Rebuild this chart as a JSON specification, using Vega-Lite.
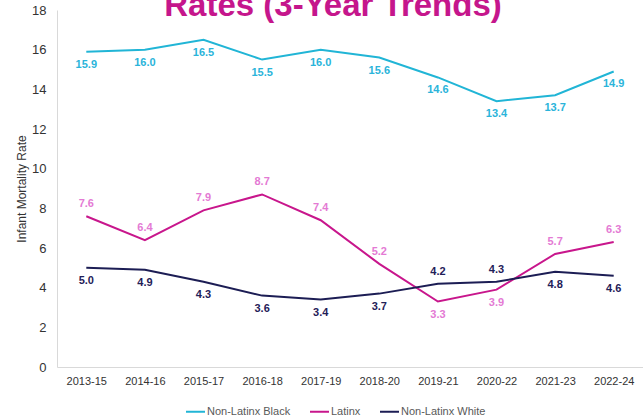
{
  "$schema": "https://vega.github.io/schema/vega-lite/v6.json",
  "autosize": {"type": "none"},
  "padding": {"left": 57, "top": 10, "right": 0, "bottom": 49},
  "width": 586,
  "height": 357,
  "background": "white",
  "title": {
    "text": "Rates (3-Year Trends)",
    "fontSize": 33,
    "fontWeight": "bold",
    "font": "Liberation Sans",
    "color": "#C5168C",
    "anchor": "middle",
    "frame": "group",
    "baseline": "alphabetic",
    "offset": -45,
    "dx": -17
  },
  "config": {
    "view": {"stroke": null},
    "font": "Liberation Sans"
  },
  "data": {
    "values": [
      {"period": "2013-15", "series": "Non-Latinx Black", "rate": 15.9},
      {"period": "2014-16", "series": "Non-Latinx Black", "rate": 16.0},
      {"period": "2015-17", "series": "Non-Latinx Black", "rate": 16.5},
      {"period": "2016-18", "series": "Non-Latinx Black", "rate": 15.5},
      {"period": "2017-19", "series": "Non-Latinx Black", "rate": 16.0},
      {"period": "2018-20", "series": "Non-Latinx Black", "rate": 15.6},
      {"period": "2019-21", "series": "Non-Latinx Black", "rate": 14.6},
      {"period": "2020-22", "series": "Non-Latinx Black", "rate": 13.4},
      {"period": "2021-23", "series": "Non-Latinx Black", "rate": 13.7},
      {"period": "2022-24", "series": "Non-Latinx Black", "rate": 14.9},
      {"period": "2013-15", "series": "Latinx", "rate": 7.6},
      {"period": "2014-16", "series": "Latinx", "rate": 6.4},
      {"period": "2015-17", "series": "Latinx", "rate": 7.9},
      {"period": "2016-18", "series": "Latinx", "rate": 8.7},
      {"period": "2017-19", "series": "Latinx", "rate": 7.4},
      {"period": "2018-20", "series": "Latinx", "rate": 5.2},
      {"period": "2019-21", "series": "Latinx", "rate": 3.3},
      {"period": "2020-22", "series": "Latinx", "rate": 3.9},
      {"period": "2021-23", "series": "Latinx", "rate": 5.7},
      {"period": "2022-24", "series": "Latinx", "rate": 6.3},
      {"period": "2013-15", "series": "Non-Latinx White", "rate": 5.0},
      {"period": "2014-16", "series": "Non-Latinx White", "rate": 4.9},
      {"period": "2015-17", "series": "Non-Latinx White", "rate": 4.3},
      {"period": "2016-18", "series": "Non-Latinx White", "rate": 3.6},
      {"period": "2017-19", "series": "Non-Latinx White", "rate": 3.4},
      {"period": "2018-20", "series": "Non-Latinx White", "rate": 3.7},
      {"period": "2019-21", "series": "Non-Latinx White", "rate": 4.2},
      {"period": "2020-22", "series": "Non-Latinx White", "rate": 4.3},
      {"period": "2021-23", "series": "Non-Latinx White", "rate": 4.8},
      {"period": "2022-24", "series": "Non-Latinx White", "rate": 4.6}
    ]
  },
  "encoding": {
    "x": {
      "field": "period",
      "type": "ordinal",
      "scale": {"type": "point", "padding": 0.5},
      "axis": {
        "title": null,
        "labelAngle": 0,
        "ticks": false,
        "labelPadding": 8,
        "labelFontSize": 11,
        "labelColor": "#333333",
        "domainColor": "#D9D9D9",
        "domainWidth": 1,
        "grid": false
      }
    },
    "y": {
      "field": "rate",
      "type": "quantitative",
      "scale": {"domain": [0, 18]},
      "axis": {
        "title": "Infant Mortality Rate",
        "titleFontSize": 12,
        "titleFontWeight": "normal",
        "titleColor": "#333333",
        "titlePadding": 3,
        "values": [0, 2, 4, 6, 8, 10, 12, 14, 16, 18],
        "ticks": false,
        "labelPadding": 11,
        "labelFontSize": 13,
        "labelColor": "#333333",
        "domainColor": "#D9D9D9",
        "grid": false
      }
    }
  },
  "layer": [
    {
      "mark": {"type": "line", "strokeWidth": 2},
      "encoding": {
        "color": {
          "field": "series",
          "type": "nominal",
          "sort": ["Non-Latinx Black", "Latinx", "Non-Latinx White"],
          "scale": {
            "domain": ["Non-Latinx Black", "Latinx", "Non-Latinx White"],
            "range": ["#21B5D6", "#C8168C", "#1C1D54"]
          },
          "legend": {
            "title": null,
            "orient": "none",
            "legendX": 128,
            "legendY": 391,
            "direction": "horizontal",
            "symbolType": "stroke",
            "symbolSize": 361,
            "symbolStrokeWidth": 2,
            "labelFontSize": 11,
            "labelColor": "#595959",
            "labelOffset": 1,
            "columnPadding": 15
          }
        }
      }
    },
    {
      "transform": [
        {"filter": "datum.series == 'Non-Latinx Black' || (datum.series == 'Latinx' && (datum.period == '2019-21' || datum.period == '2020-22')) || (datum.series == 'Non-Latinx White' && datum.period != '2019-21' && datum.period != '2020-22')"}
      ],
      "mark": {"type": "text", "dy": 13, "fontSize": 11, "fontWeight": "bold"},
      "encoding": {
        "text": {"field": "rate", "type": "quantitative", "format": ".1f"},
        "color": {
          "condition": [
            {"test": "datum.series == 'Latinx'", "value": "#E47AD4"},
            {"test": "datum.series == 'Non-Latinx White'", "value": "#1F2058"}
          ],
          "value": "#2AB4DA"
        }
      }
    },
    {
      "transform": [
        {"filter": "(datum.series == 'Latinx' && datum.period != '2019-21' && datum.period != '2020-22') || (datum.series == 'Non-Latinx White' && (datum.period == '2019-21' || datum.period == '2020-22'))"}
      ],
      "mark": {"type": "text", "dy": -12, "fontSize": 11, "fontWeight": "bold"},
      "encoding": {
        "text": {"field": "rate", "type": "quantitative", "format": ".1f"},
        "color": {
          "condition": [
            {"test": "datum.series == 'Latinx'", "value": "#E47AD4"},
            {"test": "datum.series == 'Non-Latinx White'", "value": "#1F2058"}
          ],
          "value": "#2AB4DA"
        }
      }
    }
  ]
}
